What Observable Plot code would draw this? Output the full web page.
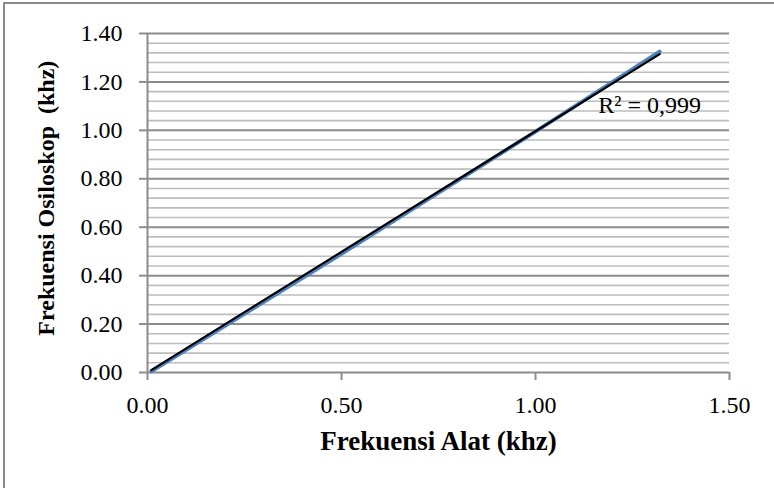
<!DOCTYPE html>
<html>
<head>
<meta charset="utf-8">
<script src="https://cdn.jsdelivr.net/npm/d3@7"></script>
<script src="https://cdn.jsdelivr.net/npm/@observablehq/plot@0.6"></script>
<style>
  html, body { margin: 0; padding: 0; background: #fff; }
  #wrap { position: relative; width: 774px; height: 488px; overflow: hidden; }
  #frame { position: absolute; left: 3px; top: 2px; right: -10px; bottom: -10px;
           border-left: 2px solid #8a8a8a; border-top: 2px solid #8a8a8a; pointer-events: none; }
  #chart { position: absolute; left: 0; top: 0; }
</style>
</head>
<body>
<div id="wrap"><div id="chart"></div><div id="frame"></div></div>
<script>
// Data
const alat      = [0.01, 0.50, 1.00, 1.32];      // Frekuensi Alat (khz)
const osiloskop = [0.005, 0.49, 0.995, 1.325];  // Frekuensi Osiloskop (khz)
const trendX    = [0.01, 1.32];
const trendY    = [0.01, 1.315];
const xTicks    = [0, 0.5, 1.0, 1.5];
const yTicks    = [0, 0.2, 0.4, 0.6, 0.8, 1.0, 1.2, 1.4];
const yMinor    = [0.04,0.08,0.12,0.16,0.24,0.28,0.32,0.36,0.44,0.48,0.52,0.56,0.64,0.68,0.72,0.76,0.84,0.88,0.92,0.96,1.04,1.08,1.12,1.16,1.24,1.28,1.32,1.36];
const r2Label   = "R² = 0,999";
const xTitle    = "Frekuensi Alat (khz)";
const yTitle    = "Frekuensi Osiloskop  (khz)";

const series = alat.map((x, i) => ({x, y: osiloskop[i]}));
const trend  = trendX.map((x, i) => ({x, y: trendY[i]}));

const serif = "'Liberation Serif', 'Times New Roman', serif";

const chart = Plot.plot({
  width: 774,
  height: 488,
  marginLeft: 147,
  marginRight: 45,
  marginTop: 33,
  marginBottom: 116,
  style: { fontFamily: serif, background: "transparent", overflow: "visible" },
  x: { domain: [0, 1.5] },
  y: { domain: [0, 1.4] },
  marks: [
    Plot.ruleY(yMinor, { stroke: "#bdbdbd", strokeWidth: 1.6 }),
    Plot.ruleY(yTicks, { stroke: "#8c8c8c", strokeWidth: 2 }),
    Plot.ruleX([0], { y1: 0, y2: 1.4, stroke: "#8c8c8c", strokeWidth: 2 }),
    Plot.axisY({ ticks: yTicks, tickFormat: d => d.toFixed(2), tickSize: 8, tickPadding: 17,
                 fontSize: 24, stroke: "#8c8c8c", strokeWidth: 2, fill: "#000", label: null }),
    Plot.axisX({ ticks: xTicks, tickFormat: d => d.toFixed(2), tickSize: 8, tickPadding: 15,
                 fontSize: 24, stroke: "#8c8c8c", strokeWidth: 2, fill: "#000", label: null }),
    Plot.line(series, { x: "x", y: "y", stroke: "#4f81bd", strokeWidth: 4 }),
    Plot.line(trend, { x: "x", y: "y", stroke: "#000", strokeWidth: 2.2 }),
    Plot.text([r2Label], { x: 1.162, y: 1.103, textAnchor: "start", fontSize: 24, fill: "#000" }),
    Plot.text([xTitle], { frameAnchor: "bottom", dy: 77, fontSize: 27, fontWeight: "bold", fill: "#000" }),
    Plot.text([yTitle], { x: () => -0.26, y: () => 0.72, rotate: -90, fontSize: 24, fontWeight: "bold", fill: "#000" })
  ]
});
document.getElementById("chart").appendChild(chart);
</script>
</body>
</html>
